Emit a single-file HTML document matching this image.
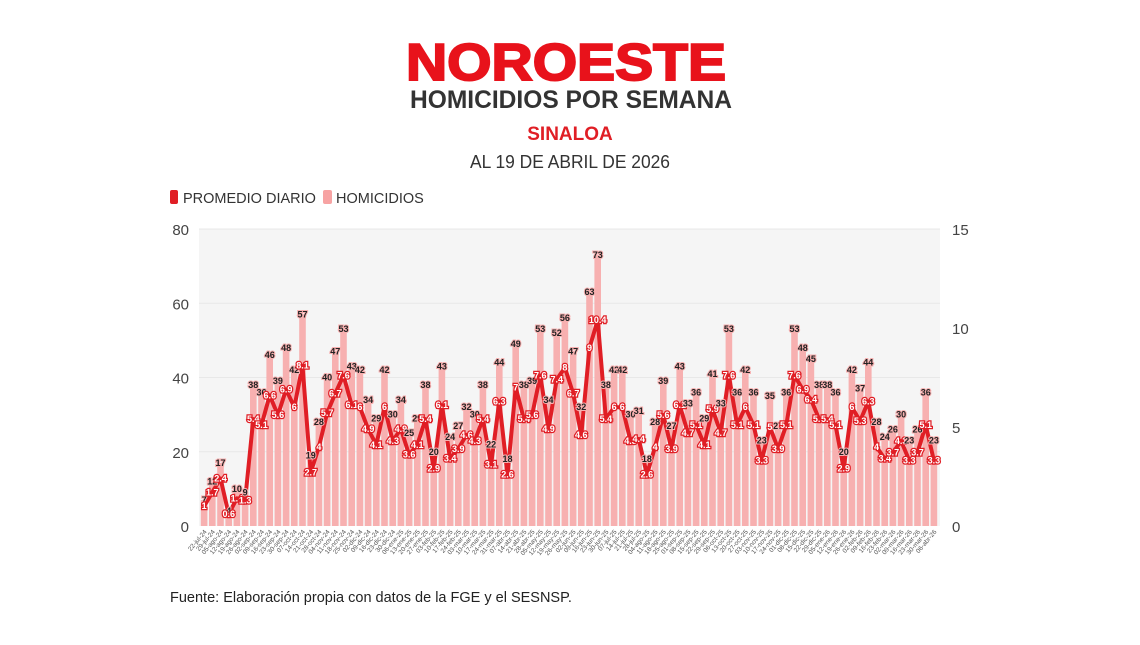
<!DOCTYPE html>
<html><head><meta charset="utf-8"><style>
body{margin:0;background:#fff;width:1140px;height:640px;overflow:hidden;font-family:"Liberation Sans",sans-serif}
</style></head><body>
<svg id="s" width="1140" height="640" xmlns="http://www.w3.org/2000/svg" font-family="Liberation Sans, sans-serif">
<text x="566" y="80" font-size="52" font-weight="bold" fill="#e8121b" stroke="#e8121b" stroke-width="2" text-anchor="middle" textLength="320" lengthAdjust="spacingAndGlyphs">NOROESTE</text>
<text x="571" y="108" font-size="25" font-weight="bold" fill="#333" text-anchor="middle" textLength="322" lengthAdjust="spacingAndGlyphs">HOMICIDIOS POR SEMANA</text>
<text x="570" y="140" font-size="19" font-weight="bold" fill="#e01e25" text-anchor="middle">SINALOA</text>
<text x="570" y="168" font-size="18" fill="#333" text-anchor="middle" textLength="200" lengthAdjust="spacingAndGlyphs">AL 19 DE ABRIL DE 2026</text>
<rect x="170" y="190" width="8" height="14" rx="2" fill="#e01e25"/>
<text x="183" y="203" font-size="14.5" fill="#333">PROMEDIO DIARIO</text>
<rect x="323" y="190" width="9" height="14" rx="2" fill="#f7a3a3"/>
<text x="336" y="203" font-size="14.5" fill="#333">HOMICIDIOS</text>
<rect x="199" y="229" width="741" height="297" fill="#f5f5f5"/>
<g id="g"></g>
<text x="170" y="602" font-size="14.5" fill="#222">Fuente: Elaboración propia con datos de la FGE y el SESNSP.</text>
</svg>
<script>
var d=[7,12,17,4,10,9,38,36,46,39,48,42,57,19,28,40,47,53,43,42,34,29,42,30,34,25,29,38,20,43,24,27,32,30,38,22,44,18,49,38,39,53,34,52,56,47,32,63,73,38,42,42,30,31,18,28,39,27,43,33,36,29,41,33,53,36,42,36,23,35,27,36,53,48,45,38,38,36,20,42,37,44,28,24,26,30,23,26,36,23];
var g=document.getElementById('g'),h='';
var L=200,R=938,T=229,B=526,n=d.length,w=(R-L)/n;
function yl(v){return B-v/80*(B-T)}
function yr(v){return B-v/15*(B-T)}
[20,40,60,80].forEach(function(v){h+='<line x1="199" x2="940" y1="'+yl(v)+'" y2="'+yl(v)+'" stroke="#e8e8e8"/>'});
[0,20,40,60,80].forEach(function(v){h+='<text x="189" y="'+(yl(v)+6)+'" font-size="15" fill="#444" text-anchor="end">'+v+'</text>'});
[0,5,10,15].forEach(function(v){h+='<text x="952" y="'+(yr(v)+6)+'" font-size="15" fill="#444">'+v+'</text>'});
var pts=[],mon=['ene','feb','mar','abr','may','jun','jul','ago','sep','oct','nov','dic'];
var t0=new Date(2024,6,22);
d.forEach(function(v,i){var x=L+i*w;h+='<rect x="'+(x+0.8)+'" y="'+yl(v)+'" width="'+(w-1.6)+'" height="'+(B-yl(v))+'" fill="#f7b0b0"/>';
var cx=x+w/2;pts.push(cx.toFixed(1)+','+yr(Math.round(v/7*10)/10).toFixed(1));
var dt=new Date(t0.getTime()+i*7*864e5);var s=('0'+dt.getDate()).slice(-2)+'-'+mon[dt.getMonth()]+'-'+(''+dt.getFullYear()).slice(2);
h+='<text transform="translate('+(cx+3)+',532) rotate(-50)" font-size="6.5" fill="#555" text-anchor="end">'+s+'</text>';});
h+='<polyline points="'+pts.join(' ')+'" fill="none" stroke="#e01e25" stroke-width="4" stroke-linejoin="round"/>';
d.forEach(function(v,i){var cx=L+i*w+w/2,a=Math.round(v/7*10)/10;
h+='<text x="'+cx+'" y="'+(yl(v)+3)+'" font-size="9" font-weight="bold" fill="#222" text-anchor="middle" stroke="#f7b0b0" stroke-width="2" paint-order="stroke">'+v+'</text>';
h+='<text x="'+cx+'" y="'+(yr(a)+3)+'" font-size="9" font-weight="bold" fill="#fff" text-anchor="middle" stroke="#e01e25" stroke-width="2.5" paint-order="stroke">'+a+'</text>';});
g.innerHTML=h;
</script>
</body></html>
